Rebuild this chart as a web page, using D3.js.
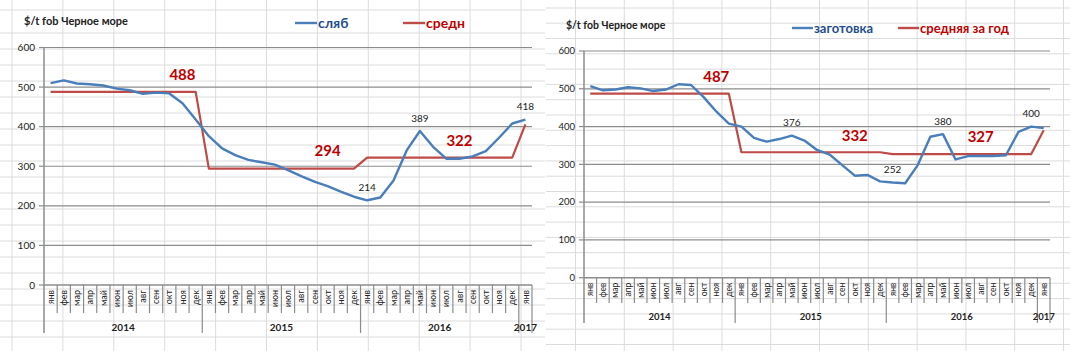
<!DOCTYPE html>
<html>
<head>
<meta charset="utf-8">
<script src="https://cdn.jsdelivr.net/npm/d3@7"></script>
<style>
  html, body { margin: 0; padding: 0; background: #fff; }
  svg { display: block; font-family: Lato, "Open Sans", "DejaVu Sans", sans-serif; }
</style>
</head>
<body>
<svg id="chart" width="1070" height="351"></svg>
<script>
// ── Data ─────────────────────────────────────────────
const months = ['янв','фев','мар','апр','май','июн','июл','авг','сен','окт','ноя','дек'];
const years  = ['2014', '2015', '2016', '2017'];
const yearSpans = [12, 12, 12, 1];
const yTicks = [0, 100, 200, 300, 400, 500, 600];

// left panel: slab
const slabValues = [
  510, 517, 509, 507, 504, 496, 492, 483, 486, 484, 459, 418,
  376, 345, 328, 316, 310, 304, 290, 275, 261, 250, 236, 223,
  214, 221, 264, 340, 389, 349, 319, 319, 325, 338, 372, 408,
  418
];
const slabAvg = [
  488, 488, 488, 488, 488, 488, 488, 488, 488, 488, 488, 488,
  294, 294, 294, 294, 294, 294, 294, 294, 294, 294, 294, 294,
  322, 322, 322, 322, 322, 322, 322, 322, 322, 322, 322, 322,
  406
];
const slabPointLabels = [24, 28, 36];             // indices labelled with value
const slabAvgLabels   = [['488', 10, 532], ['294', 21, 338], ['322', 31, 365]];

// right panel: billet
const billetValues = [
  507, 496, 498, 504, 501, 494, 498, 512, 510, 478, 440, 408,
  400, 370, 360, 367, 376, 363, 338, 326, 298, 270, 272, 255,
  252, 250, 298, 373, 380, 313, 322, 322, 322, 324, 386, 400,
  396
];
const billetAvg = [
  487, 487, 487, 487, 487, 487, 487, 487, 487, 487, 487, 487,
  332, 332, 332, 332, 332, 332, 332, 332, 332, 332, 332, 332,
  327, 327, 327, 327, 327, 327, 327, 327, 327, 327, 327, 327,
  390
];
const billetPointLabels = [16, 24, 28, 35];
const billetAvgLabels   = [['487', 10, 531], ['332', 21, 377], ['327', 31, 373]];

const categories = [];
years.forEach((y, yi) => {
  for (let m = 0; m < yearSpans[yi]; m++) categories.push({ year: y, month: months[m] });
});

const BLUE = '#4a7ebb', RED = '#be4b48', LABEL_RED = '#c00000';
const GRID = '#8c8c8c', SHEET = '#dcdcdc';

const svg = d3.select('#chart');

// ── Excel sheet background grid ──────────────────────
function sheetGrid(x0, x1, cols, rows) {
  const g = svg.append('g');
  cols.forEach(x => g.append('line').attr('x1', x).attr('x2', x).attr('y1', 0).attr('y2', 351)
    .attr('stroke', SHEET).attr('stroke-width', 1));
  rows.forEach(y => g.append('line').attr('x1', x0).attr('x2', x1).attr('y1', y).attr('y2', y)
    .attr('stroke', SHEET).attr('stroke-width', 1));
}
sheetGrid(0, 545, d3.range(12, 545, 50.9), [10].concat(d3.range(33, 351, 16)));
sheetGrid(546, 1070, d3.range(575.5, 1070, 48.8), [8].concat(d3.range(23.2, 351, 15.3)));

// ── Panel ────────────────────────────────────────────
function drawPanel(p) {
  const g = svg.append('g');
  const x = d3.scaleBand().domain(d3.range(categories.length)).range([p.x0, p.x1]);
  const y = d3.scaleLinear().domain([0, 600]).range([p.yZero, p.yTop]);
  const cx = i => x(i) + x.bandwidth() / 2;

  // horizontal gridlines + y labels
  yTicks.forEach(t => {
    if (t > 0) g.append('line').attr('x1', p.x0).attr('x2', p.x1)
      .attr('y1', y(t)).attr('y2', y(t)).attr('stroke', GRID).attr('stroke-width', 1.2);
    g.append('line').attr('x1', p.x0 - 5).attr('x2', p.x0)
      .attr('y1', y(t)).attr('y2', y(t)).attr('stroke', GRID).attr('stroke-width', 1.2);
    g.append('text').attr('x', p.x0 - 9).attr('y', y(t)).attr('dy', '0.35em')
      .attr('text-anchor', 'end').attr('font-size', p.tickFont).attr('fill', '#222')
      .text(t);
  });

  // category axis
  g.append('line').attr('x1', p.x0).attr('x2', p.x1).attr('y1', y(0)).attr('y2', y(0))
    .attr('stroke', GRID).attr('stroke-width', 1.5);
  g.append('line').attr('x1', p.x0).attr('x2', p.x0).attr('y1', y(600)).attr('y2', p.yBottom)
    .attr('stroke', GRID).attr('stroke-width', 1.5);

  const yearStarts = [0, 12, 24, 36, 37];
  d3.range(1, categories.length + 1).forEach(i => {
    const bx = i < categories.length ? x(i) : p.x1;
    const long = yearStarts.includes(i);
    g.append('line').attr('x1', bx).attr('x2', bx).attr('y1', y(0))
      .attr('y2', long ? p.yBottom : p.yMonthEnd)
      .attr('stroke', GRID).attr('stroke-width', 1.2);
  });

  categories.forEach((c, i) => {
    g.append('text')
      .attr('transform', `translate(${cx(i) + p.monthFont * 0.35},${y(0) + 5}) rotate(-90)`)
      .attr('text-anchor', 'end').attr('font-size', p.monthFont).attr('fill', '#222')
      .text(c.month);
  });

  let start = 0;
  years.forEach((yr, yi) => {
    const a = x(start), b = start + yearSpans[yi] < categories.length ? x(start + yearSpans[yi]) : p.x1;
    g.append('text').attr('x', (a + b) / 2).attr('y', p.yearY).attr('dy', '0.35em')
      .attr('text-anchor', 'middle').attr('font-size', p.yearFont).attr('font-weight', 'bold')
      .attr('fill', '#222').text(yr);
    start += yearSpans[yi];
  });

  // lines
  const line = d3.line().x((d, i) => cx(i)).y(d => y(d));
  g.append('path').datum(p.avg).attr('d', line).attr('fill', 'none')
    .attr('stroke', RED).attr('stroke-width', 2.2).attr('stroke-linejoin', 'round');
  g.append('path').datum(p.values).attr('d', line).attr('fill', 'none')
    .attr('stroke', BLUE).attr('stroke-width', 2.4).attr('stroke-linejoin', 'round');

  // point labels
  p.pointLabels.forEach(i => {
    g.append('text').attr('x', cx(i)).attr('y', y(p.values[i]) - 13).attr('dy', '0.35em')
      .attr('text-anchor', 'middle').attr('font-size', p.labelFont).attr('fill', '#222')
      .text(p.values[i]);
  });

  // annual average labels
  p.avgLabels.forEach(([txt, i, v]) => {
    g.append('text').attr('x', cx(i)).attr('y', y(v)).attr('dy', '0.35em')
      .attr('text-anchor', 'middle').attr('font-size', p.avgFont).attr('font-weight', 'bold')
      .attr('fill', LABEL_RED).text(txt);
  });

  // title
  g.append('text').attr('x', p.titleX).attr('y', p.titleY).attr('dy', '0.35em')
    .attr('font-size', p.titleFont).attr('font-weight', 'bold').attr('fill', '#222')
    .text('$/t fob Черное море');

  // legend
  p.legend.forEach(([label, color, textColor, lx]) => {
    g.append('line').attr('x1', lx).attr('x2', lx + p.legendLine)
      .attr('y1', p.legendY).attr('y2', p.legendY).attr('stroke', color).attr('stroke-width', 2.4);
    g.append('text').attr('x', lx + p.legendLine + 1).attr('y', p.legendY).attr('dy', '0.35em')
      .attr('font-size', p.legendFont).attr('font-weight', 'bold').attr('fill', textColor)
      .text(label);
  });
}

drawPanel({
  x0: 44, x1: 532, yZero: 285, yTop: 47.5, yBottom: 333, yMonthEnd: 313, yearY: 327,
  values: slabValues, avg: slabAvg, pointLabels: slabPointLabels, avgLabels: slabAvgLabels,
  tickFont: 10, monthFont: 9, yearFont: 10, labelFont: 10, avgFont: 15,
  titleX: 24, titleY: 21, titleFont: 11,
  legend: [['сляб', BLUE, '#1f4e8c', 295], ['средн', RED, LABEL_RED, 403]],
  legendLine: 22, legendY: 23, legendFont: 14
});

drawPanel({
  x0: 584, x1: 1050, yZero: 277.7, yTop: 51, yBottom: 323, yMonthEnd: 303, yearY: 317,
  values: billetValues, avg: billetAvg, pointLabels: billetPointLabels, avgLabels: billetAvgLabels,
  tickFont: 9.5, monthFont: 8.5, yearFont: 9.5, labelFont: 10, avgFont: 15,
  titleX: 566, titleY: 25, titleFont: 10.5,
  legend: [['заготовка', BLUE, '#1f4e8c', 792], ['средняя за год', RED, LABEL_RED, 898]],
  legendLine: 21, legendY: 28, legendFont: 13
});
</script>
</body>
</html>
